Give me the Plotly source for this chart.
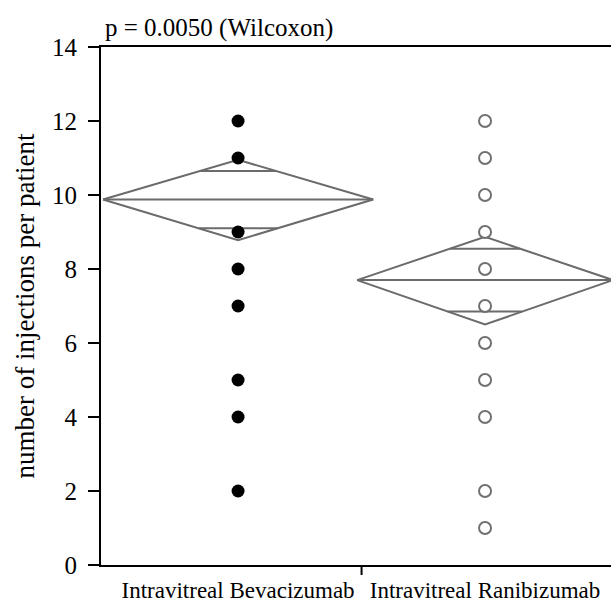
import plotly.graph_objects as go

# ---- data ----
groups = ["Intravitreal Bevacizumab", "Intravitreal Ranibizumab"]
bev_values = [12, 11, 9, 8, 7, 5, 4, 2]
ran_values = [12, 11, 10, 9, 8, 7, 6, 5, 4, 2, 1]
means = [9.88, 7.70]
ci_upper = [10.95, 8.87]
ci_lower = [8.78, 6.50]
overlap_upper = [10.65, 8.55]
overlap_lower = [9.10, 6.85]
diamond_halfwidth = [0.547, 0.518]
y_ticks = [0, 2, 4, 6, 8, 10, 12, 14]
title_text = "p = 0.0050 (Wilcoxon)"
y_title = "number of injections per patient"

FONT = "Liberation Serif"
DCOL = "#6b6b6b"

fig = go.Figure()

# diamonds
for i in range(2):
    w = diamond_halfwidth[i]
    m, t, b = means[i], ci_upper[i], ci_lower[i]
    fig.add_trace(go.Scatter(
        x=[i - w, i, i + w, i, i - w], y=[m, t, m, b, m],
        mode="lines", line=dict(color=DCOL, width=2), hoverinfo="skip", showlegend=False))
    fig.add_trace(go.Scatter(
        x=[i - w, i + w], y=[m, m], mode="lines",
        line=dict(color=DCOL, width=2), hoverinfo="skip", showlegend=False))
    for ov, edge in ((overlap_upper[i], t), (overlap_lower[i], b)):
        frac = 1 - (ov - m) / (edge - m)
        fig.add_trace(go.Scatter(
            x=[i - w * frac, i + w * frac], y=[ov, ov], mode="lines",
            line=dict(color=DCOL, width=2), hoverinfo="skip", showlegend=False))

fig.add_trace(go.Scatter(
    x=[0] * len(bev_values), y=bev_values, mode="markers",
    marker=dict(size=13, color="black", line=dict(width=0)), showlegend=False))
fig.add_trace(go.Scatter(
    x=[1] * len(ran_values), y=ran_values, mode="markers",
    marker=dict(size=12, color="white", line=dict(width=2, color="#707070")), showlegend=False))

# single category-boundary tick
fig.add_shape(type="line", xref="x", yref="paper", x0=0.5, x1=0.5, y0=0, y1=-10 / 518,
              line=dict(color="black", width=2))

fig.add_annotation(text=title_text, xref="paper", yref="paper", x=0.003, y=1,
                   xanchor="left", yanchor="bottom", yshift=3, showarrow=False,
                   font=dict(family=FONT, size=25, color="black"))

fig.update_layout(
    width=611, height=605,
    margin=dict(l=101, r=0, t=47, b=40, autoexpand=False),
    paper_bgcolor="white", plot_bgcolor="white",
    font=dict(family=FONT, color="black"),
    xaxis=dict(range=[-0.555, 1.51], tickvals=[0, 1], ticktext=groups, ticks="",
               showline=True, linecolor="black", linewidth=2, mirror=True, automargin=False,
               showgrid=False, zeroline=False, tickfont=dict(size=23, family=FONT, color="black"),
               ticklabelstandoff=3),
    yaxis=dict(range=[0, 14], tickvals=y_ticks, ticks="outside", ticklen=11, tickwidth=2,
               tickcolor="black", showline=True, linecolor="black", linewidth=2, automargin=False,
               showgrid=False, zeroline=False,
               tickfont=dict(size=25, family=FONT, color="black"), ticklabelstandoff=6,
               title=dict(text=y_title, font=dict(size=27, family=FONT, color="black"), standoff=10)),
)

fig.write_html("out.html", config={"displayModeBar": False},
               post_script="document.body.style.margin='0px';")
